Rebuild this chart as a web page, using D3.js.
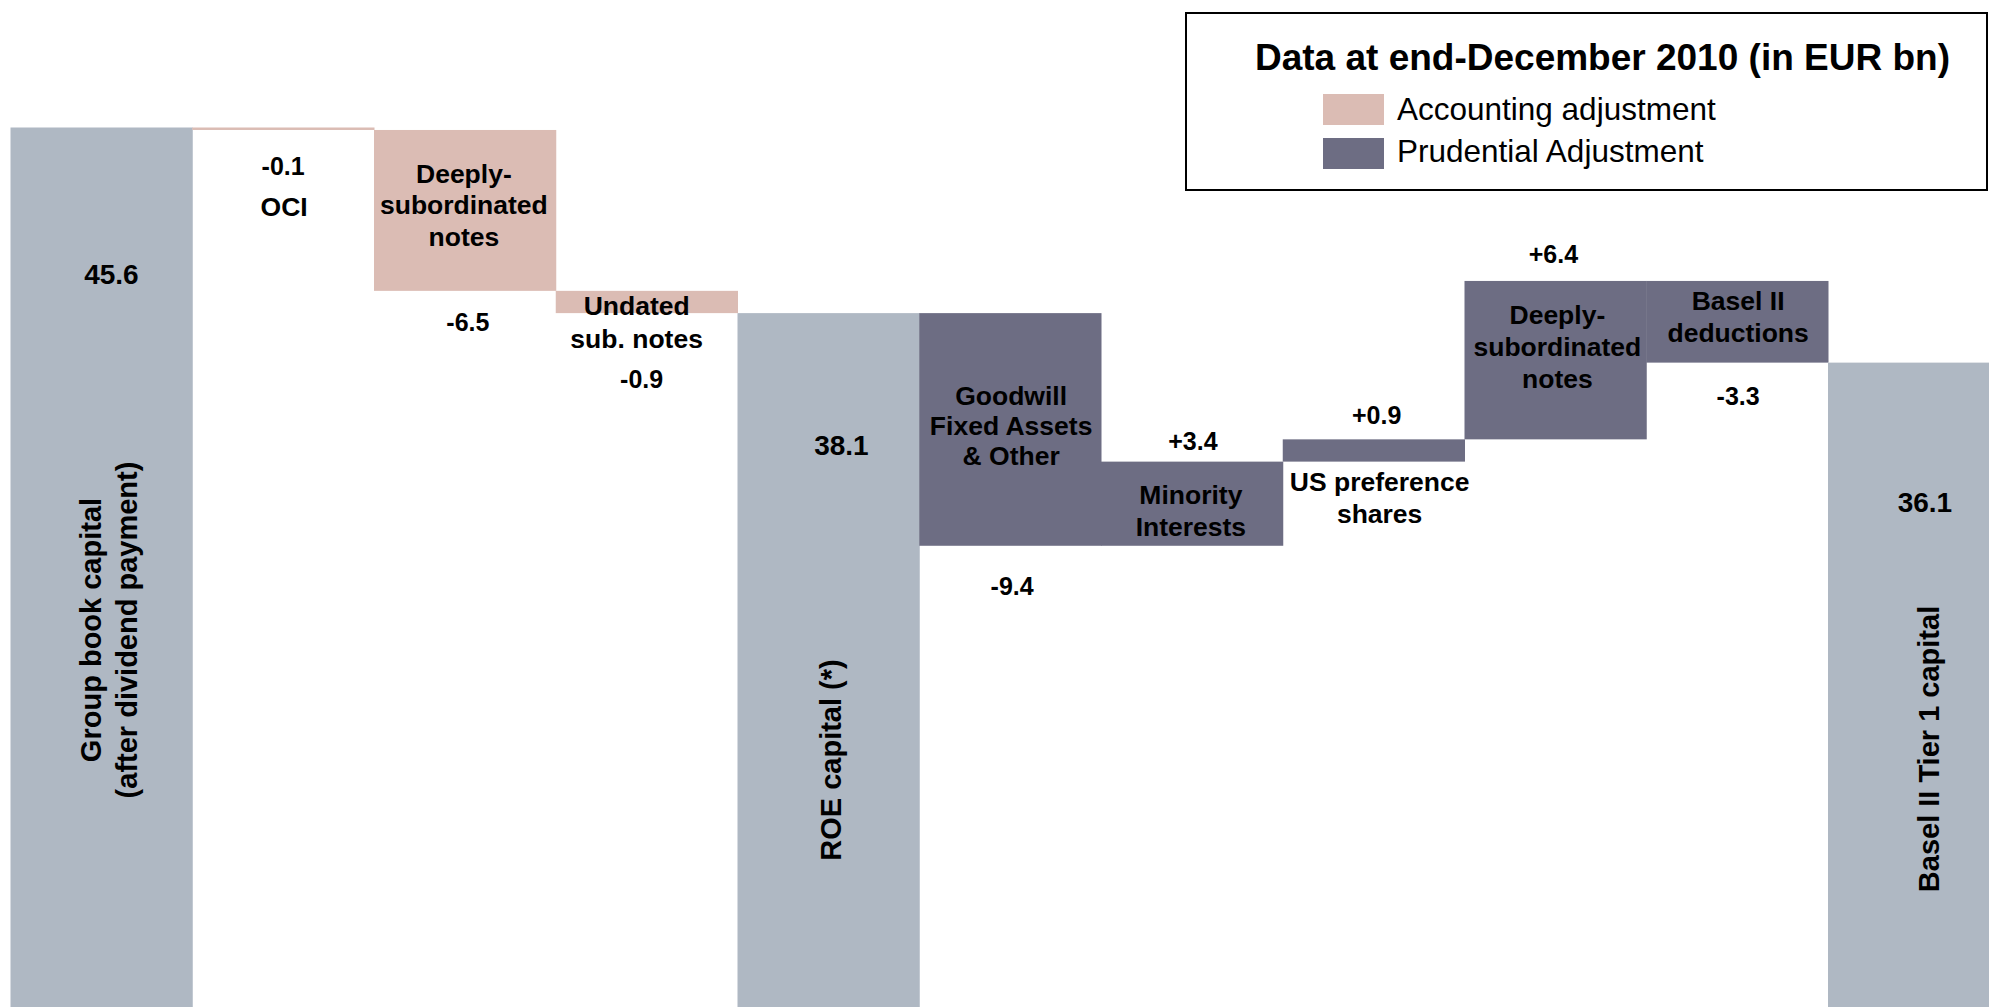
<!DOCTYPE html>
<html>
<head>
<meta charset="utf-8">
<script src="https://cdn.jsdelivr.net/npm/d3@7/dist/d3.min.js"></script>
<style>
  html, body { margin: 0; padding: 0; background: #ffffff; }
  svg { display: block; }
  text { font-family: "Liberation Sans", Arial, Helvetica, sans-serif; fill: #000; }
</style>
</head>
<body>
<svg id="chart" width="1989" height="1007"></svg>
<script>
// ---------------- DATA ----------------
const categories = [
  ["Group book capital", "(after dividend payment)"],
  ["OCI"],
  ["Deeply-", "subordinated", "notes"],
  ["Undated", "sub. notes"],
  ["ROE capital (*)"],
  ["Goodwill", "Fixed Assets", "& Other"],
  ["Minority", "Interests"],
  ["US preference", "shares"],
  ["Deeply-", "subordinated", "notes"],
  ["Basel II", "deductions"],
  ["Basel II Tier 1 capital"]
];
const values = [45.6, -0.1, -6.5, -0.9, 38.1, -9.4, 3.4, 0.9, 6.4, -3.3, 36.1];
const kinds  = ["total", "accounting", "accounting", "accounting", "total",
                "prudential", "prudential", "prudential", "prudential", "prudential", "total"];
const legendTitle = "Data at end-December 2010 (in EUR bn)";
const legendItems = ["Accounting adjustment", "Prudential Adjustment"];
const legendKinds = ["accounting", "prudential"];

// ---------------- STYLE ----------------
const colors = { total: "#AFB8C3", accounting: "#DBBCB4", prudential: "#6D6D83" };

// ---------------- BUILD WATERFALL ----------------
let running = 0;
const bars = values.map((v, i) => {
  let y0, y1;
  if (kinds[i] === "total") { y0 = 0; y1 = v; running = v; }
  else { y0 = running; y1 = running + v; running = y1; }
  return { i, v, kind: kinds[i], lo: Math.min(y0, y1), hi: Math.max(y0, y1) };
});

const svg = d3.select("#chart");
const W = 1989, H = 1007;
svg.append("rect").attr("width", W).attr("height", H).attr("fill", "#fff");

const x = d3.scaleBand().domain(d3.range(values.length)).range([10.5, 10.5 + 11 * 181.75]).padding(0);
const pxPerUnit = 24.75;
const y = d3.scaleLinear().domain([0, 45.6]).range([127.5 + 45.6 * pxPerUnit, 127.5]);

svg.append("g").selectAll("rect").data(bars).join("rect")
  .attr("x", d => x(d.i))
  .attr("width", x.bandwidth() + 0.5)
  .attr("y", d => y(d.hi))
  .attr("height", d => y(d.lo) - y(d.hi))
  .attr("fill", d => colors[d.kind]);

// ---------------- LABEL LAYOUT (relative to bar edges) ----------------
// value: [anchorEdge, dy, dx]; name: [anchorEdge, first-line dy, line step, dx]
const layout = [
  { value: ["top", 146, 10], rot: { dx: 7, y: 630, step: 36 } },
  { value: ["bottom", 36.5, 0], name: ["bottom", 76, 31.5, 1] },
  { value: ["bottom", 31.5, 3], name: ["top", 43, 31.5, -1] },
  { value: ["bottom", 66, -5], name: ["top", 15, 33, -10] },
  { value: ["top", 132, 13], rot: { dx: 2, y: 760, step: 0 } },
  { value: ["bottom", 40, 2], name: ["top", 82.5, 30, 1] },
  { value: ["top", -20.5, 1], name: ["top", 32.7, 31.7, -1] },
  { value: ["top", -24, 3], name: ["bottom", 20, 31.7, 6] },
  { value: ["top", -27, -2], name: ["top", 34, 31.7, 2] },
  { value: ["bottom", 33, 1], name: ["top", 20, 31.5, 1] },
  { value: ["top", 139.5, 6], rot: { dx: 10, y: 749, step: 0 } }
];

const fmt = (v, k) => k === "total" ? v.toFixed(1) : (v > 0 ? "+" : "-") + Math.abs(v).toFixed(1);
const edge = (d, e) => e === "top" ? y(d.hi) : y(d.lo);
const g = svg.append("g");

bars.forEach((d, i) => {
  const L = layout[i];
  const cx = x(i) + x.bandwidth() / 2;
  // value label
  g.append("text")
    .attr("x", cx + L.value[2])
    .attr("y", edge(d, L.value[0]) + L.value[1])
    .attr("dy", "0.36em")
    .attr("text-anchor", "middle")
    .attr("font-weight", "bold")
    .attr("font-size", d.kind === "total" ? 28 : 25)
    .text(fmt(d.v, d.kind));
  // category label
  if (L.rot) {
    const lines = categories[i];
    const n = lines.length;
    lines.forEach((ln, j) => {
      const lx = cx + L.rot.dx + (j - (n - 1) / 2) * L.rot.step;
      g.append("text")
        .attr("transform", `translate(${lx},${L.rot.y}) rotate(-90)`)
        .attr("dy", "0.36em")
        .attr("text-anchor", "middle")
        .attr("font-weight", "bold")
        .attr("font-size", 29)
        .text(ln);
    });
  } else {
    categories[i].forEach((ln, j) => {
      g.append("text")
        .attr("x", cx + L.name[3])
        .attr("y", edge(d, L.name[0]) + L.name[1] + j * L.name[2])
        .attr("dy", "0.36em")
        .attr("text-anchor", "middle")
        .attr("font-weight", "bold")
        .attr("font-size", 26.5)
        .text(ln);
    });
  }
});

// ---------------- LEGEND ----------------
const lg = svg.append("g");
lg.append("rect")
  .attr("x", 1186).attr("y", 13).attr("width", 801).attr("height", 177)
  .attr("fill", "#fff").attr("stroke", "#000").attr("stroke-width", 2);
lg.append("text")
  .attr("x", 1255).attr("y", 70)
  .attr("font-weight", "bold").attr("font-size", 37)
  .text(legendTitle);
legendItems.forEach((t, j) => {
  lg.append("rect")
    .attr("x", 1323).attr("y", 94 + j * 44)
    .attr("width", 61).attr("height", 31)
    .attr("fill", colors[legendKinds[j]]);
  lg.append("text")
    .attr("x", 1397).attr("y", 120 + j * 42)
    .attr("font-size", 31.5)
    .text(t);
});
</script>
</body>
</html>
